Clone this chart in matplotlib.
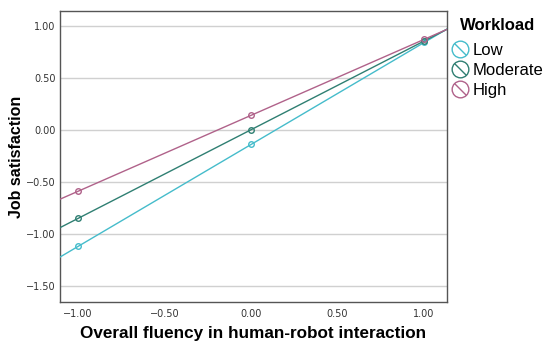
import matplotlib
matplotlib.use('Agg')
import matplotlib.pyplot as plt
from matplotlib.lines import Line2D
from matplotlib.legend_handler import HandlerTuple
import numpy as np

# data
fluency = [-1.0, 0.0, 1.0]
groups = ['Low', 'Moderate', 'High']
satisfaction = {
    'Low': [-1.12, -0.14, 0.84],
    'Moderate': [-0.85, 0.00, 0.855],
    'High': [-0.59, 0.14, 0.87],
}
colors = {'Low': '#45BCCB', 'Moderate': '#2F7F72', 'High': '#B0628A'}
xticks = [-1.0, -0.5, 0.0, 0.5, 1.0]
yticks = [1.0, 0.5, 0.0, -0.5, -1.0, -1.5]
xlim = (-1.104, 1.133)
ylim = (-1.654, 1.144)

LABEL_FONT = ['Liberation Sans', 'DejaVu Sans']

fig = plt.figure(figsize=(5.5, 3.5), dpi=100)
ax = fig.add_axes([0.109, 0.137, 0.704, 0.832])

xs = np.array(xlim)
handles = []
for g in groups:
    y = satisfaction[g]
    slope, icpt = np.polyfit(fluency, y, 1)
    ax.plot(xs, slope * xs + icpt, color=colors[g], lw=1.0, zorder=3)
    ax.plot(fluency, y, 'o', ms=4, mfc='none', mec=colors[g], mew=1.0, zorder=4)
    circ = Line2D([], [], marker='o', ms=12, mfc='none', mec=colors[g], mew=1.0, ls='none')
    slash = Line2D([], [], marker=[(-1, 1), (1, -1)], ms=8.5, mec=colors[g], mew=1.0, ls='none')
    handles.append((circ, slash))

ax.set_xlim(*xlim)
ax.set_ylim(*ylim)
ax.set_xticks(xticks)
ax.set_xticklabels([f'{v:.2f}'.replace('-', '\u2212') for v in xticks])
ax.set_yticks(yticks)
ax.set_yticklabels([f'{v:.2f}'.replace('-', '\u2212') for v in yticks])
ax.tick_params(length=0, labelsize=7, colors='#333333', pad=3)
ax.tick_params(axis='x', pad=5)
ax.grid(axis='y', color='#d0d0d0', lw=1.0)
ax.set_axisbelow(True)
for s in ax.spines.values():
    s.set_color('#555555')
    s.set_linewidth(1.0)

ax.set_xlabel('Overall fluency in human-robot interaction', fontsize=12.3,
              fontweight='bold', family=LABEL_FONT, labelpad=5)
ax.set_ylabel('Job satisfaction', fontsize=11.5, fontweight='bold',
              family=LABEL_FONT, labelpad=1.5)

# legend title drawn separately so its gap to the entries can be set
fig.text(0.837, 1 - 25 / 350, 'Workload', fontsize=12, fontweight='bold',
         family=LABEL_FONT, va='center', ha='left')
leg = fig.legend(handles, groups, handler_map={tuple: HandlerTuple(ndivide=1)},
                 loc='upper left', bbox_to_anchor=(0.822, 1 - 43 / 350), frameon=False,
                 prop={'family': LABEL_FONT, 'size': 12},
                 handlelength=1.0, handletextpad=0.25,
                 labelspacing=0.3, borderaxespad=0, borderpad=0)

plt.savefig('out.png', dpi=100)
